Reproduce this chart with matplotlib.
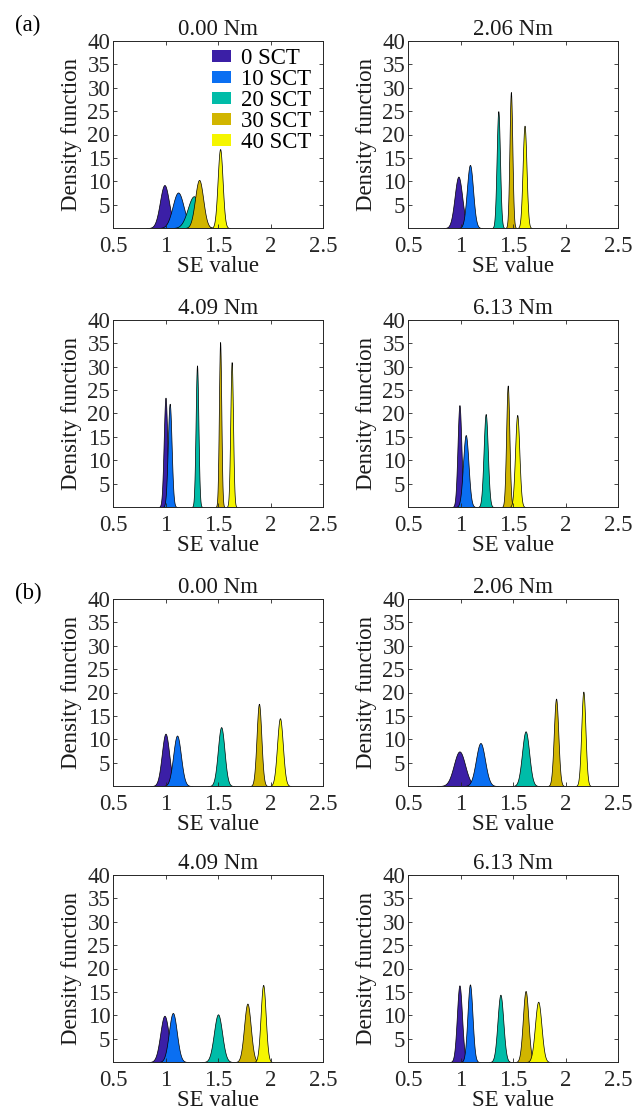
import matplotlib
matplotlib.use("Agg")
import matplotlib.pyplot as plt
from matplotlib.patches import Patch
import numpy as np

plt.rcParams['font.family'] = ['Liberation Serif', 'DejaVu Serif']
plt.rcParams['mathtext.fontset'] = 'stix'

series = ['0 SCT', '10 SCT', '20 SCT', '30 SCT', '40 SCT']
colors = ['#3b1fa6', '#0a6ff2', '#00bca8', '#d1b500', '#f5f500']
torques = ['0.00 Nm', '2.06 Nm', '4.09 Nm', '6.13 Nm']

# peak positions (SE value) and peak heights of each density
# group (a)
a_means = [
    [0.99, 1.12, 1.27, 1.32, 1.52],
    [0.98, 1.09, 1.36, 1.48, 1.61],
    [1.00, 1.04, 1.30, 1.52, 1.63],
    [0.99, 1.05, 1.24, 1.45, 1.54],
]
a_peaks = [
    [9.2, 7.6, 6.8, 10.3, 16.9],
    [11.0, 13.5, 25.0, 29.1, 21.9],
    [23.4, 22.1, 30.3, 35.3, 31.0],
    [21.8, 15.4, 19.9, 26.0, 19.7],
]
# group (b)
b_means = [
    [1.00, 1.11, 1.53, 1.89, 2.09],
    [0.99, 1.19, 1.62, 1.91, 2.17],
    [0.99, 1.07, 1.50, 1.78, 1.93],
    [0.99, 1.09, 1.38, 1.62, 1.74],
]
b_peaks = [
    [11.2, 10.8, 12.6, 17.6, 14.5],
    [7.4, 9.2, 11.7, 18.7, 20.2],
    [9.9, 10.5, 10.2, 12.5, 16.5],
    [16.4, 16.6, 14.4, 15.2, 12.9],
]

W, H = 638, 1110
fig = plt.figure(figsize=(W / 100, H / 100), dpi=100)

col_x = [113, 408]
row_y = [41, 320, 599, 875]
aw, ah = 210, 187
fs = 16.5


def draw_panel(ax, means, peaks, title):
    for mu, pk, c in zip(means, peaks, colors):
        sd = 1.0 / (pk * np.sqrt(2 * np.pi))
        x = np.linspace(mu - 4 * sd, mu + 4 * sd, 200)
        y = np.exp(-0.5 * ((x - mu) / sd) ** 2) / (sd * np.sqrt(2 * np.pi))
        ax.fill_between(x, 0, y, facecolor=c, edgecolor='black', linewidth=0.5)
    ax.set_xlim(0.5, 2.5)
    ax.set_ylim(0, 40)
    ax.set_xticks([0.5, 1, 1.5, 2, 2.5])
    ax.set_xticklabels(['0.5', '1', '1.5', '2', '2.5'])
    ax.set_yticks([5, 10, 15, 20, 25, 30, 35, 40])
    ax.tick_params(direction='in', top=True, right=True, length=3, width=0.6,
                   labelsize=fs, colors='#262626', pad=2)
    ax.tick_params(axis='x', pad=6)
    for s in ax.spines.values():
        s.set_color('#262626')
        s.set_linewidth(0.7)
    ax.set_title(title, fontsize=fs, pad=4, color='#1a1a1a')
    ax.set_xlabel('SE value', fontsize=fs, labelpad=-1, color='#1a1a1a')
    ax.set_ylabel('Density function', fontsize=fs, labelpad=4, color='#1a1a1a')


groups = [(a_means, a_peaks), (b_means, b_peaks)]
axes = []
for g, (gm, gp) in enumerate(groups):
    for k in range(4):
        r = g * 2 + k // 2
        c = k % 2
        rect = [col_x[c] / W, 1 - (row_y[r] + ah) / H, aw / W, ah / H]
        ax = fig.add_axes(rect)
        draw_panel(ax, gm[k], gp[k], torques[k])
        axes.append(ax)

handles = [Patch(facecolor=c, edgecolor='none') for c in colors]
axes[0].legend(handles, series, loc='upper right', frameon=False, fontsize=fs,
               handlelength=0.85, handleheight=0.4, handletextpad=0.45,
               labelspacing=0.0, borderaxespad=0.0, bbox_to_anchor=(0.99, 1.01))

fig.text(15 / W, 1 - 25 / H, '(a)', fontsize=fs, va='center', ha='left')
fig.text(15 / W, 1 - 593 / H, '(b)', fontsize=fs, va='center', ha='left')

fig.savefig('out.png', dpi=100)
